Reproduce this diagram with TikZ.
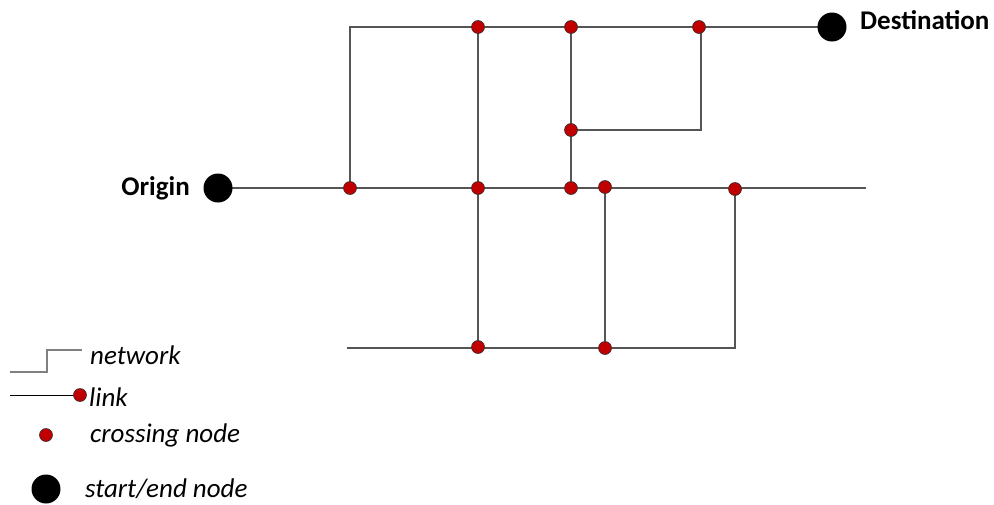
\documentclass[tikz,border=0pt]{standalone}
\usepackage{fontspec}
\setmainfont{Carlito}
\usetikzlibrary{backgrounds}
\definecolor{nodered}{HTML}{C00000}
\definecolor{linegray}{HTML}{555555}
\begin{document}
\begin{tikzpicture}[x=1pt,y=-1pt,
  cross/.style={circle,draw=black!80,line width=0.6pt,fill=nodered,inner sep=0pt,minimum size=13pt},
  endnode/.style={circle,fill=black,inner sep=0pt,minimum size=29pt},
  net/.style={draw=linegray,line width=1.4pt},
  lbl/.style={font=\fontsize{27}{30}\selectfont\bfseries,inner sep=0pt},
  leg/.style={font=\fontsize{27}{30}\selectfont\itshape,inner sep=0pt,anchor=west}]
\useasboundingbox (0,0) rectangle (994,504);
% main nodes
\node[endnode] (O) at (218,188) {};
\node[lbl,anchor=east] (Olbl) at (190,188) {Origin};
\node[endnode] (D) at (832,27) {};
\node[lbl,anchor=west] (Dlbl) at (860,20) {Destination};
\node[cross] (m1) at (350,188) {};
\node[cross] (m2) at (478,188) {};
\node[cross] (m3) at (571,188) {};
\node[cross] (m4) at (605,187) {};
\node[cross] (m5) at (735,189) {};
\node[cross] (t1) at (478,27) {};
\node[cross] (t2) at (571,27) {};
\node[cross] (t3) at (699,27) {};
\node[cross] (c1) at (571,130) {};
\node[cross] (b1) at (478,347) {};
\node[cross] (b2) at (605,348) {};
\coordinate (tl) at (350,27);
\coordinate (mr) at (866,188);
\coordinate (br) at (735,348);
\coordinate (bl) at (347,348);
\coordinate (cr) at (701,130);
\coordinate (t3b) at (701,27);
% legend
\coordinate (n1) at (10,372);
\coordinate (n2) at (47,372);
\coordinate (n3) at (47,350);
\coordinate (n4) at (82,350);
\node[leg] (lnet) at (90,355) {network};
\coordinate (l1) at (10,395);
\node[cross] (l2) at (80,395) {};
\node[leg] (llink) at (89,397) {link};
\node[cross] (lc) at (46,435) {};
\node[leg] (lcross) at (90,435) {crossing node};
\node[endnode] (le) at (46,489) {};
\node[leg] (lend) at (85,489) {start/end node};
\begin{scope}[on background layer]
\draw[net] (O.center) -- (mr);
\draw[net] (m1.center) -- (tl) -- (D.center);
\draw[net] (t1.center) -- (m2.center);
\draw[net] (m2.center) -- (b1.center);
\draw[net] (t2.center) -- (m3.center);
\draw[net] (c1.center) -- (cr) -- (t3b);
\draw[net] (m4.center) -- (b2.center);
\draw[net] (m5.center) -- (br) -- (bl);
\draw[draw=gray,line width=1.2pt] (n1) -- (n2) -- (n3) -- (n4);
\draw[draw=black,line width=1pt] (l1) -- (l2.center);
\end{scope}
\end{tikzpicture}
\end{document}
